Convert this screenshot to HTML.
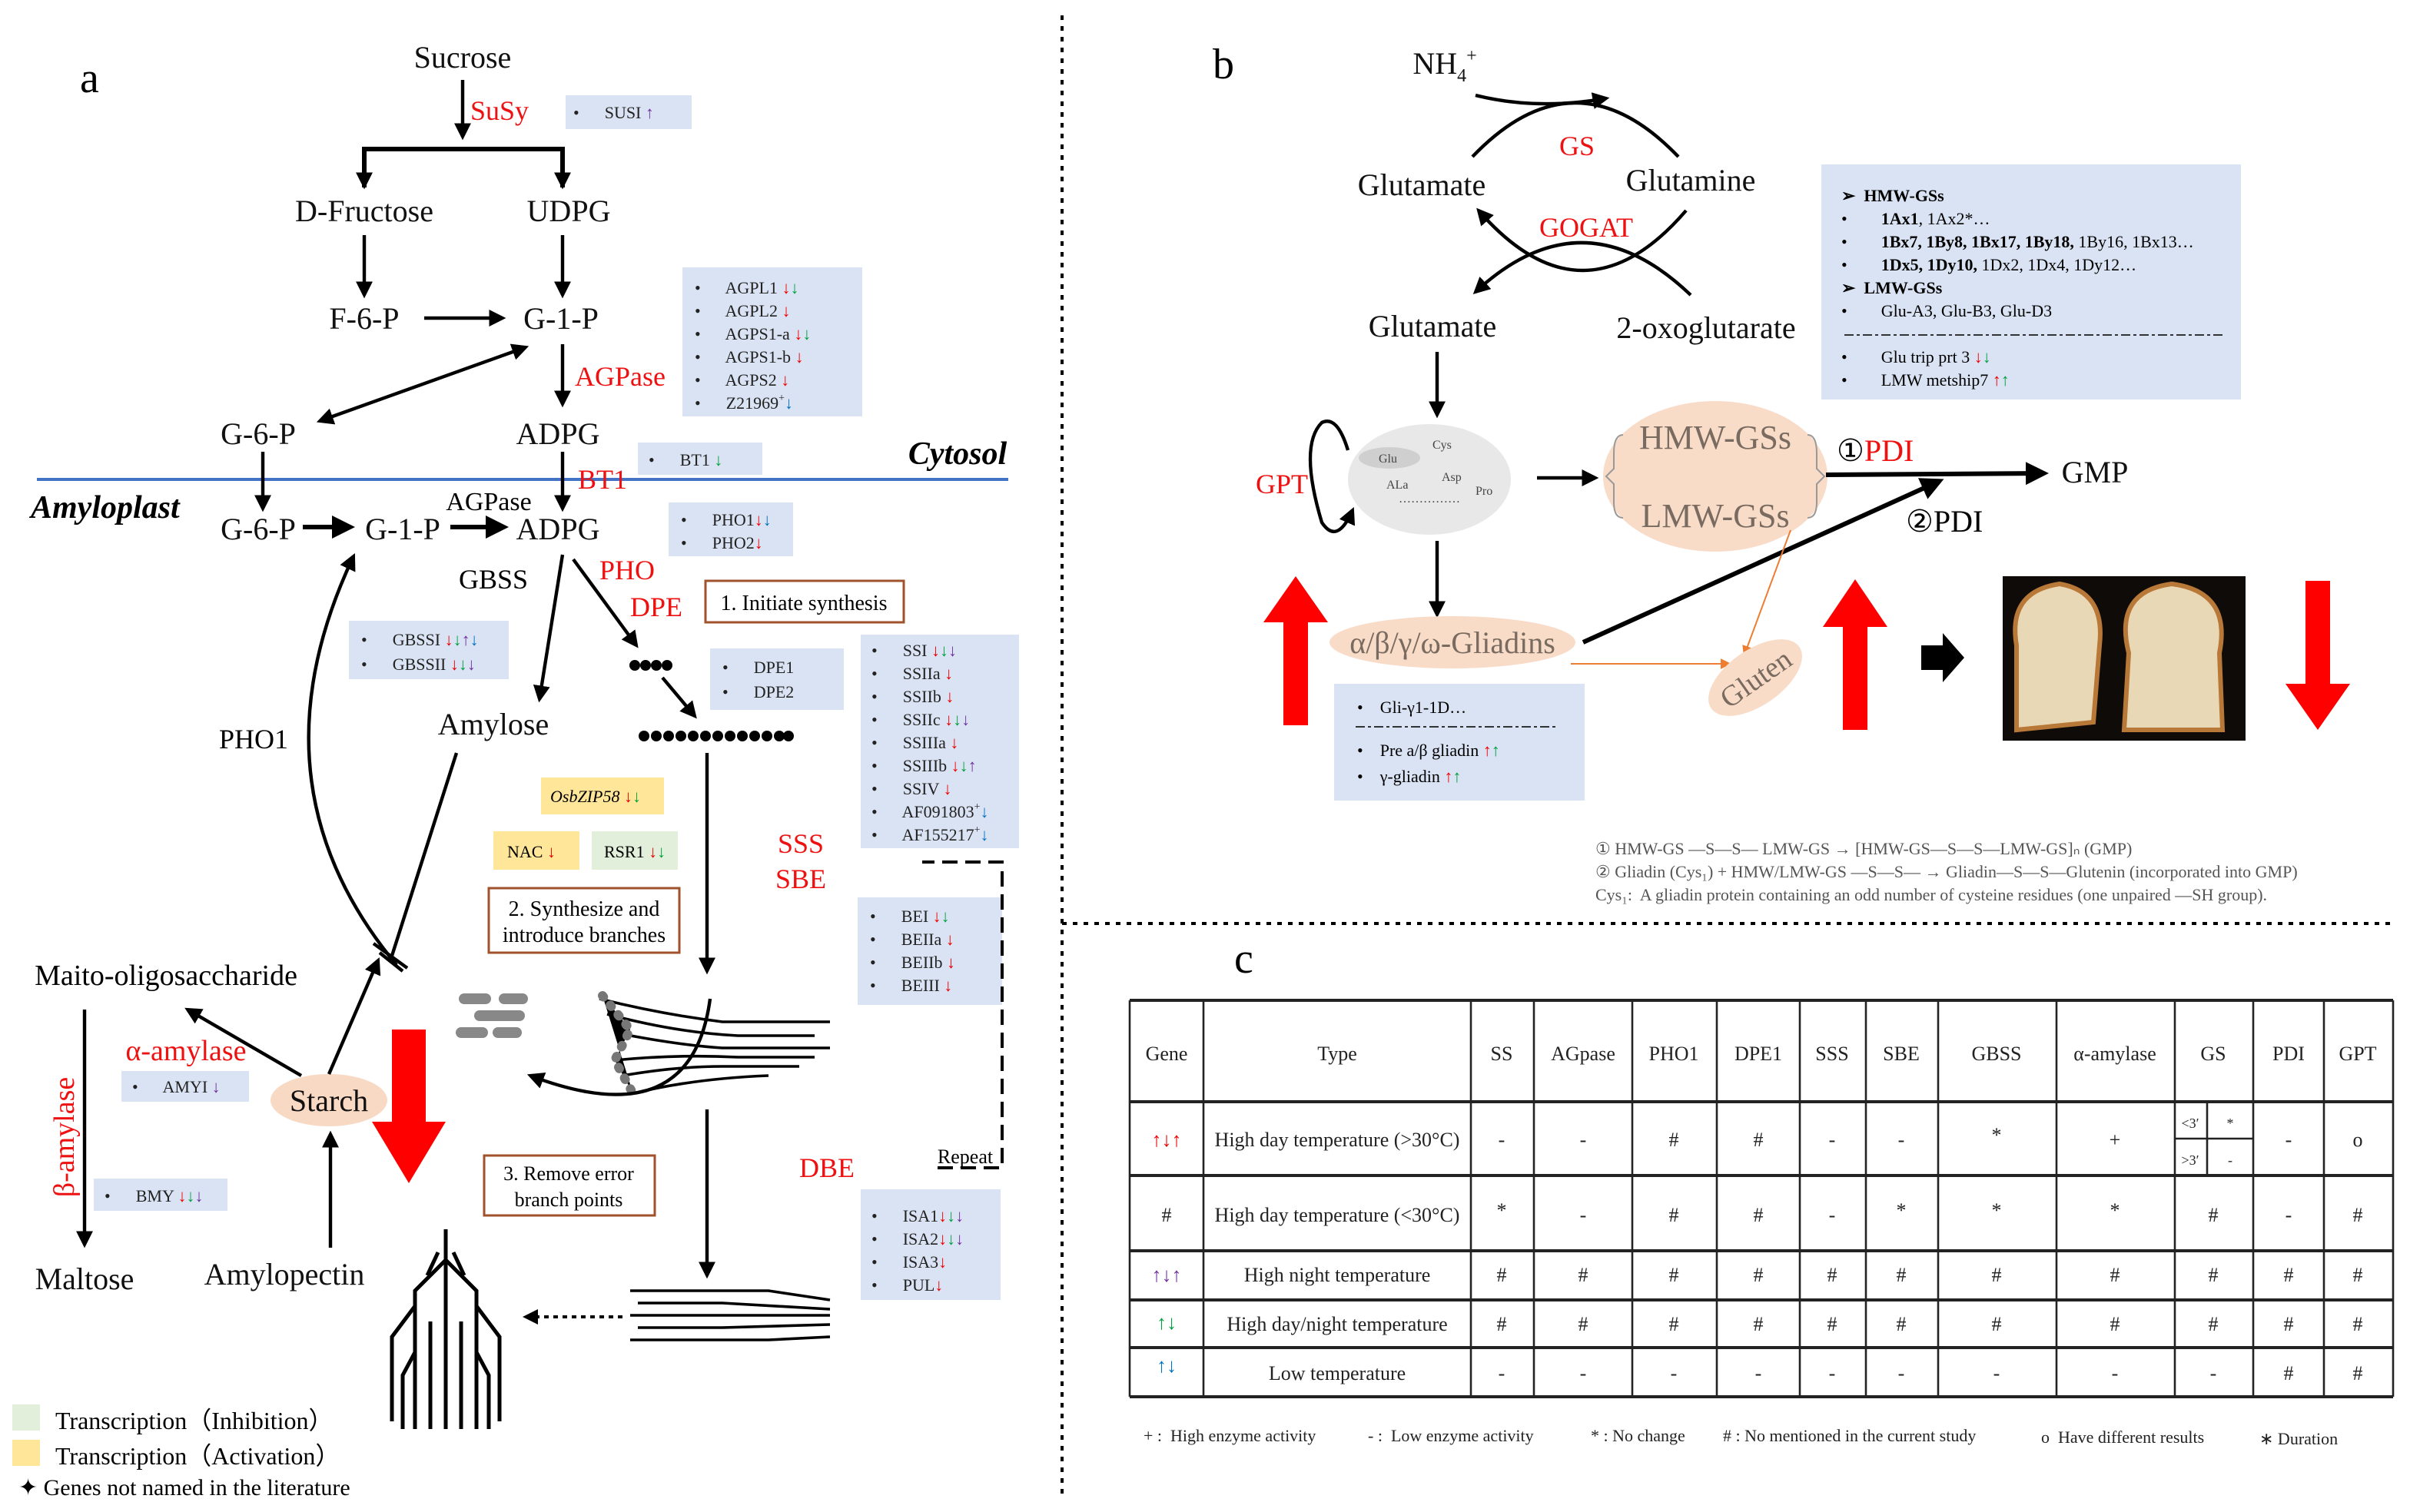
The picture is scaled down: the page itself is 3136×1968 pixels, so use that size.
<!DOCTYPE html>
<html><head><meta charset="utf-8"><style>
html,body{margin:0;padding:0;background:#fff}
svg{display:block}
text{font-family:"Liberation Serif",serif;white-space:pre}
.b{fill:#dae3f3}
.t{font-size:11px;fill:#222}
.n{font-size:20px;fill:#111}
.r{fill:#ee1111}
.ln{stroke:#000;stroke-width:2.2;fill:none}
.c{font-size:13px;text-anchor:middle;fill:#222}
</style></head><body>
<svg width="3136" height="1968" viewBox="0 0 1568 984" xmlns="http://www.w3.org/2000/svg" xml:space="preserve">
<defs>
<marker id="a" viewBox="0 0 10 10" refX="8" refY="5" markerWidth="5" markerHeight="5" orient="auto-start-reverse"><path d="M0,0 L10,5 L0,10 z" fill="#000"/></marker>
<marker id="o" viewBox="0 0 10 10" refX="8" refY="5" markerWidth="7" markerHeight="7" orient="auto"><path d="M0,0 L10,5 L0,10 z" fill="#ed7d31"/></marker>
</defs>
<rect width="1568" height="984" fill="#fff"/>

<!-- ===== Panel a ===== -->
<text x="52" y="60" font-size="28">a</text>
<text x="301" y="44" class="n" text-anchor="middle">Sucrose</text>
<line x1="301" y1="52" x2="301" y2="89" class="ln" marker-end="url(#a)"/>
<text x="306" y="78" font-size="18" class="r">SuSy</text>
<rect x="368" y="62" width="82" height="22" class="b"/>
<text x="373" y="77" class="t">•      SUSI <tspan fill="#7030a0">↑</tspan></text>
<path d="M237,122 V97 H366 V122" stroke="#000" stroke-width="3" fill="none"/>
<line x1="237" y1="110" x2="237" y2="121" class="ln" marker-end="url(#a)"/>
<line x1="366" y1="110" x2="366" y2="121" class="ln" marker-end="url(#a)"/>
<text x="237" y="144" class="n" text-anchor="middle">D-Fructose</text>
<text x="370" y="144" class="n" text-anchor="middle">UDPG</text>
<line x1="237" y1="153" x2="237" y2="192" class="ln" marker-end="url(#a)"/>
<line x1="366" y1="153" x2="366" y2="192" class="ln" marker-end="url(#a)"/>
<text x="237" y="214" class="n" text-anchor="middle">F-6-P</text>
<text x="365" y="214" class="n" text-anchor="middle">G-1-P</text>
<line x1="276" y1="207" x2="327" y2="207" class="ln" marker-end="url(#a)"/>
<rect x="444" y="174" width="117" height="97" class="b"/>
<g class="t">
<text x="452" y="191">•      AGPL1 <tspan fill="#e00">↓</tspan><tspan fill="#00a040">↓</tspan></text>
<text x="452" y="206">•      AGPL2 <tspan fill="#e00">↓</tspan></text>
<text x="452" y="221">•      AGPS1-a <tspan fill="#e00">↓</tspan><tspan fill="#00a040">↓</tspan></text>
<text x="452" y="236">•      AGPS1-b <tspan fill="#e00">↓</tspan></text>
<text x="452" y="251">•      AGPS2 <tspan fill="#e00">↓</tspan></text>
<text x="452" y="266">•      Z21969<tspan font-size="7" dy="-5">+</tspan><tspan fill="#0070c0" dy="5">↓</tspan></text>
</g>
<line x1="366" y1="224" x2="366" y2="263" class="ln" marker-end="url(#a)"/>
<text x="374" y="251" font-size="18" class="r">AGPase</text>
<line x1="342" y1="226" x2="208" y2="274" class="ln" marker-start="url(#a)" marker-end="url(#a)"/>
<text x="168" y="289" class="n" text-anchor="middle">G-6-P</text>
<text x="363" y="289" class="n" text-anchor="middle">ADPG</text>
<rect x="415" y="288" width="81" height="21" class="b"/>
<text x="422" y="303" class="t">•      BT1 <tspan fill="#00a040">↓</tspan></text>
<text x="623" y="302" font-size="21" font-weight="bold" font-style="italic" text-anchor="middle">Cytosol</text>
<line x1="24" y1="312" x2="656" y2="312" stroke="#4472c4" stroke-width="2"/>
<line x1="366" y1="294" x2="366" y2="331" class="ln" marker-end="url(#a)"/>
<text x="376" y="318" font-size="18" class="r">BT1</text>
<line x1="171" y1="294" x2="171" y2="331" class="ln" marker-end="url(#a)"/>
<text x="20" y="337" font-size="21" font-weight="bold" font-style="italic">Amyloplast</text>
<text x="168" y="351" class="n" text-anchor="middle">G-6-P</text>
<text x="262" y="351" class="n" text-anchor="middle">G-1-P</text>
<text x="363" y="351" class="n" text-anchor="middle">ADPG</text>
<text x="318" y="332" font-size="17" text-anchor="middle">AGPase</text>
<line x1="197" y1="343" x2="228" y2="343" stroke="#000" stroke-width="3" marker-end="url(#a)"/>
<line x1="293" y1="343" x2="328" y2="343" stroke="#000" stroke-width="3" marker-end="url(#a)"/>
<rect x="435" y="327" width="81" height="35" class="b"/>
<text x="443" y="342" class="t">•      PHO1<tspan fill="#e00">↓</tspan><tspan fill="#0070c0">↓</tspan></text>
<text x="443" y="357" class="t">•      PHO2<tspan fill="#e00">↓</tspan></text>
<text x="321" y="383" font-size="18" text-anchor="middle">GBSS</text>
<text x="390" y="377" font-size="18" class="r">PHO</text>
<text x="410" y="401" font-size="18" class="r">DPE</text>
<rect x="459" y="378" width="129" height="27" fill="#fff" stroke="#a0522d" stroke-width="1.5"/>
<text x="523" y="397" font-size="14" text-anchor="middle">1. Initiate synthesis</text>
<line x1="366" y1="361" x2="351" y2="455" class="ln" marker-end="url(#a)"/>
<line x1="373" y1="364" x2="414" y2="420" class="ln" marker-end="url(#a)"/>
<rect x="227" y="404" width="104" height="38" class="b"/>
<text x="235" y="420" class="t">•      GBSSI <tspan fill="#e00">↓</tspan><tspan fill="#00a040">↓</tspan><tspan fill="#7030a0">↑</tspan><tspan fill="#0070c0">↓</tspan></text>
<text x="235" y="436" class="t">•      GBSSII <tspan fill="#e00">↓</tspan><tspan fill="#00a040">↓</tspan><tspan fill="#7030a0">↓</tspan></text>
<g fill="#000"><circle cx="413" cy="433" r="3.5"/><circle cx="420" cy="433" r="3.5"/><circle cx="427" cy="433" r="3.5"/><circle cx="434" cy="433" r="3.5"/></g>
<line x1="431" y1="441" x2="452" y2="466" class="ln" marker-end="url(#a)"/>
<g fill="#000">
<circle cx="419" cy="479" r="3.5"/><circle cx="427" cy="479" r="3.5"/><circle cx="435" cy="479" r="3.5"/><circle cx="443" cy="479" r="3.5"/><circle cx="451" cy="479" r="3.5"/><circle cx="459" cy="479" r="3.5"/><circle cx="467" cy="479" r="3.5"/><circle cx="475" cy="479" r="3.5"/><circle cx="483" cy="479" r="3.5"/><circle cx="491" cy="479" r="3.5"/><circle cx="499" cy="479" r="3.5"/><circle cx="507" cy="479" r="3.5"/><circle cx="513" cy="479" r="3.5"/></g>
<rect x="462" y="422" width="87" height="40" class="b"/>
<text x="470" y="438" class="t">•      DPE1</text>
<text x="470" y="454" class="t">•      DPE2</text>
<rect x="560" y="413" width="103" height="139" class="b"/>
<g class="t">
<text x="567" y="427">•      SSI <tspan fill="#e00">↓</tspan><tspan fill="#00a040">↓</tspan><tspan fill="#7030a0">↓</tspan></text>
<text x="567" y="442">•      SSIIa <tspan fill="#e00">↓</tspan></text>
<text x="567" y="457">•      SSIIb <tspan fill="#e00">↓</tspan></text>
<text x="567" y="472">•      SSIIc <tspan fill="#e00">↓</tspan><tspan fill="#00a040">↓</tspan><tspan fill="#7030a0">↓</tspan></text>
<text x="567" y="487">•      SSIIIa <tspan fill="#e00">↓</tspan></text>
<text x="567" y="502">•      SSIIIb <tspan fill="#e00">↓</tspan><tspan fill="#00a040">↓</tspan><tspan fill="#7030a0">↑</tspan></text>
<text x="567" y="517">•      SSIV <tspan fill="#e00">↓</tspan></text>
<text x="567" y="532">•      AF091803<tspan font-size="7" dy="-5">+</tspan><tspan fill="#0070c0" dy="5">↓</tspan></text>
<text x="567" y="547">•      AF155217<tspan font-size="7" dy="-5">+</tspan><tspan fill="#0070c0" dy="5">↓</tspan></text>
</g>
<text x="321" y="478" class="n" text-anchor="middle">Amylose</text>
<text x="165" y="487" font-size="18" text-anchor="middle">PHO1</text>
<path d="M258,628 Q160,510 230,362" class="ln" marker-end="url(#a)"/>
<line x1="460" y1="490" x2="460" y2="632" class="ln" marker-end="url(#a)"/>
<rect x="352" y="506" width="80" height="24" fill="#ffe699"/>
<text x="358" y="522" font-size="11" font-style="italic">OsbZIP58 <tspan fill="#e00" font-style="normal">↓</tspan><tspan fill="#00a040" font-style="normal">↓</tspan></text>
<rect x="321" y="541" width="56" height="25" fill="#ffe699"/>
<text x="330" y="558" font-size="11">NAC <tspan fill="#e00">↓</tspan></text>
<rect x="385" y="541" width="56" height="25" fill="#e2efda"/>
<text x="393" y="558" font-size="11">RSR1 <tspan fill="#e00">↓</tspan><tspan fill="#00a040">↓</tspan></text>
<text x="521" y="555" font-size="18" class="r" text-anchor="middle">SSS</text>
<text x="521" y="578" font-size="18" class="r" text-anchor="middle">SBE</text>
<rect x="318" y="578" width="124" height="42" fill="#fff" stroke="#a0522d" stroke-width="1.5"/>
<text x="380" y="596" font-size="14" text-anchor="middle">2. Synthesize and</text>
<text x="380" y="613" font-size="14" text-anchor="middle">introduce branches</text>
<line x1="297" y1="490" x2="255" y2="622" class="ln"/>
<line x1="243" y1="614" x2="265" y2="630" class="ln"/>
<line x1="247" y1="620" x2="262" y2="632" class="ln"/>
<rect x="558" y="584" width="94" height="70" class="b"/>
<g class="t">
<text x="566" y="600">•      BEI <tspan fill="#e00">↓</tspan><tspan fill="#00a040">↓</tspan></text>
<text x="566" y="615">•      BEIIa <tspan fill="#e00">↓</tspan></text>
<text x="566" y="630">•      BEIIb <tspan fill="#e00">↓</tspan></text>
<text x="566" y="645">•      BEIII <tspan fill="#e00">↓</tspan></text>
</g>
<path d="M610,760 H652 V561 H600" stroke="#000" stroke-width="2" stroke-dasharray="10,5" fill="none"/>
<text x="628" y="757" font-size="13" text-anchor="middle">Repeat</text>
<text x="108" y="641" font-size="19" text-anchor="middle">Maito-oligosaccharide</text>
<line x1="196" y1="700" x2="122" y2="657" class="ln" marker-end="url(#a)"/>
<text x="121" y="690" font-size="19" class="r" text-anchor="middle">α-amylase</text>
<rect x="79" y="697" width="83" height="20" class="b"/>
<text x="86" y="711" class="t">•      AMYI <tspan fill="#7030a0">↓</tspan></text>
<ellipse cx="214" cy="716" rx="38" ry="17" fill="#f8d9c4"/>
<text x="214" y="723" class="n" text-anchor="middle" fill="#555">Starch</text>
<line x1="214" y1="699" x2="246" y2="625" class="ln" marker-end="url(#a)"/>
<polygon points="255,670 277,670 277,730 290,730 266,770 242,730 255,730" fill="#ff0000"/>
<text transform="translate(48,740) rotate(-90)" font-size="19" class="r" text-anchor="middle">β-amylase</text>
<line x1="55" y1="657" x2="55" y2="810" class="ln" marker-end="url(#a)"/>
<rect x="61" y="767" width="87" height="21" class="b"/>
<text x="68" y="782" class="t">•      BMY <tspan fill="#e00">↓</tspan><tspan fill="#00a040">↓</tspan><tspan fill="#7030a0">↓</tspan></text>
<text x="55" y="839" class="n" text-anchor="middle">Maltose</text>
<text x="185" y="836" class="n" text-anchor="middle">Amylopectin</text>
<line x1="215" y1="812" x2="215" y2="738" class="ln" marker-end="url(#a)"/>
<g stroke="#888" stroke-width="7" stroke-linecap="round">
<line x1="302" y1="650" x2="316" y2="650"/><line x1="328" y1="650" x2="340" y2="650"/>
<line x1="312" y1="661" x2="338" y2="661"/><line x1="300" y1="672" x2="314" y2="672"/><line x1="324" y1="672" x2="336" y2="672"/>
</g>
<g stroke="#000" stroke-width="1.8" fill="none">
<path d="M390,650 Q430,660 470,665 H540"/><path d="M395,660 Q440,672 480,674 H530"/>
<path d="M400,672 Q440,680 470,682 H540"/><path d="M400,690 Q440,686 480,688 H530"/>
<path d="M405,700 Q440,694 470,694 H520"/><path d="M410,712 Q450,702 500,700"/>
</g>
<g stroke="#777" stroke-width="6" stroke-linecap="round" stroke-dasharray="1,7"><path d="M392,648 L410,670 L400,690 L412,712"/></g>
<path d="M462,650 Q450,740 345,700" class="ln" marker-end="url(#a)"/>
<rect x="315" y="752" width="111" height="39" fill="#fff" stroke="#a0522d" stroke-width="1.5"/>
<text x="370" y="768" font-size="13" text-anchor="middle">3. Remove error</text>
<text x="370" y="785" font-size="13" text-anchor="middle">branch points</text>
<text x="538" y="766" font-size="18" class="r" text-anchor="middle">DBE</text>
<rect x="560" y="774" width="91" height="72" class="b"/>
<g class="t">
<text x="567" y="795">•      ISA1<tspan fill="#e00">↓</tspan><tspan fill="#00a040">↓</tspan><tspan fill="#7030a0">↓</tspan></text>
<text x="567" y="810">•      ISA2<tspan fill="#e00">↓</tspan><tspan fill="#00a040">↓</tspan><tspan fill="#7030a0">↓</tspan></text>
<text x="567" y="825">•      ISA3<tspan fill="#e00">↓</tspan></text>
<text x="567" y="840">•      PUL<tspan fill="#e00">↓</tspan></text>
</g>
<line x1="460" y1="722" x2="460" y2="830" class="ln" marker-end="url(#a)"/>
<g stroke="#000" stroke-width="1.8" fill="none">
<path d="M410,840 H500 L540,846"/><path d="M415,848 H470 L540,852"/><path d="M410,856 H540"/>
<path d="M415,864 H470 L540,862"/><path d="M410,872 H500 L540,870"/>
</g>
<line x1="405" y1="857" x2="342" y2="857" stroke="#000" stroke-width="2" stroke-dasharray="3,3" marker-end="url(#a)"/>
<g stroke="#000" stroke-width="2.5" fill="none">
<path d="M290,800 V930"/><path d="M290,820 L270,840 V930"/><path d="M290,820 L310,840 V930"/>
<path d="M270,850 L255,870 V925"/><path d="M310,850 L325,870 V925"/><path d="M280,860 V930"/><path d="M300,860 V930"/>
<path d="M270,880 L262,895 V930"/><path d="M310,880 L318,895 V930"/><path d="M285,815 L278,830"/><path d="M295,815 L302,830"/>
</g>
<rect x="8" y="914" width="18" height="17" fill="#e2efda"/>
<text x="36" y="930" font-size="16">Transcription（Inhibition）</text>
<rect x="8" y="937" width="18" height="17" fill="#ffe699"/>
<text x="36" y="953" font-size="16">Transcription（Activation）</text>
<text x="12" y="973" font-size="15">✦ Genes not named in the literature</text>

<line x1="691" y1="10" x2="691" y2="976" stroke="#000" stroke-width="2" stroke-dasharray="3,4"/>
<line x1="691" y1="601" x2="1558" y2="601" stroke="#000" stroke-width="2" stroke-dasharray="3,4"/>

<!-- ===== Panel b ===== -->
<text x="789" y="51" font-size="28">b</text>
<text x="940" y="48" class="n" text-anchor="middle">NH<tspan font-size="12" dy="5">4</tspan><tspan font-size="12" dy="-13">+</tspan></text>
<path d="M958,102 Q1025,32 1092,102" class="ln"/>
<path d="M960,62 Q1000,72 1045,64" class="ln" marker-end="url(#a)"/>
<text x="1026" y="101" font-size="18" class="r" text-anchor="middle">GS</text>
<text x="925" y="127" class="n" text-anchor="middle">Glutamate</text>
<text x="1100" y="124" class="n" text-anchor="middle">Glutamine</text>
<text x="1032" y="154" font-size="18" class="r" text-anchor="middle">GOGAT</text>
<path d="M1097,137 Q1030,215 962,137" class="ln" marker-end="url(#a)"/>
<path d="M1100,192 Q1030,125 960,190" class="ln" marker-end="url(#a)"/>
<text x="932" y="219" class="n" text-anchor="middle">Glutamate</text>
<text x="1110" y="220" class="n" text-anchor="middle">2-oxoglutarate</text>
<line x1="935" y1="229" x2="935" y2="270" class="ln" marker-end="url(#a)"/>
<rect x="1185" y="107" width="273" height="153" class="b"/>
<g font-size="11">
<text x="1198" y="131" font-weight="bold">➢  HMW-GSs</text>
<text x="1198" y="146">•        <tspan font-weight="bold">1Ax1</tspan>, 1Ax2*…</text>
<text x="1198" y="161">•        <tspan font-weight="bold">1Bx7, 1By8, 1Bx17, 1By18,</tspan> 1By16, 1Bx13…</text>
<text x="1198" y="176">•        <tspan font-weight="bold">1Dx5, 1Dy10,</tspan> 1Dx2, 1Dx4, 1Dy12…</text>
<text x="1198" y="191" font-weight="bold">➢  LMW-GSs</text>
<text x="1198" y="206">•        Glu-A3, Glu-B3, Glu-D3</text>
<text x="1198" y="236">•        Glu trip prt 3 <tspan fill="#e00">↓</tspan><tspan fill="#00a040">↓</tspan></text>
<text x="1198" y="251">•        LMW metship7 <tspan fill="#e00">↑</tspan><tspan fill="#00a040">↑</tspan></text>
</g>
<line x1="1200" y1="218" x2="1448" y2="218" stroke="#333" stroke-dasharray="6,2,2,2"/>
<ellipse cx="930" cy="312" rx="53" ry="36" fill="#e8e8e8"/>
<ellipse cx="904" cy="298" rx="20" ry="7" fill="#cfcfcf"/>
<g font-size="8" fill="#444"><text x="897" y="301">Glu</text><text x="932" y="292">Cys</text><text x="938" y="313">Asp</text><text x="902" y="318">ALa</text><text x="960" y="322">Pro</text><text x="910" y="327">……………</text></g>
<path d="M877,293 Q870,270 860,275 Q845,290 860,340 Q870,355 880,332" class="ln" marker-end="url(#a)"/>
<text x="834" y="321" font-size="18" class="r" text-anchor="middle">GPT</text>
<line x1="1000" y1="311" x2="1038" y2="311" class="ln" marker-end="url(#a)"/>
<ellipse cx="1116" cy="310" rx="73" ry="49" fill="#f8dcc8"/>
<text x="1116" y="292" font-size="22" fill="#7a6b60" text-anchor="middle">HMW-GSs</text>
<text x="1116" y="343" font-size="22" fill="#7a6b60" text-anchor="middle">LMW-GSs</text>
<path d="M1056,283 Q1050,283 1050,295 V305 L1045,310 L1050,315 V327 Q1050,337 1056,337" stroke="#999" fill="none"/>
<path d="M1176,283 Q1182,283 1182,295 V305 L1187,310 L1182,315 V327 Q1182,337 1176,337" stroke="#999" fill="none"/>
<text x="1195" y="300" font-size="20">①<tspan fill="#e11">PDI</tspan></text>
<line x1="1188" y1="309" x2="1330" y2="308" stroke="#000" stroke-width="3" marker-end="url(#a)"/>
<text x="1363" y="314" class="n" text-anchor="middle">GMP</text>
<text x="1240" y="346" font-size="20">②PDI</text>
<line x1="1030" y1="418" x2="1262" y2="313" stroke="#000" stroke-width="3" marker-end="url(#a)"/>
<line x1="935" y1="352" x2="935" y2="400" class="ln" marker-end="url(#a)"/>
<polygon points="835,472 851,472 851,405 864,405 843,375 822,405 835,405" fill="#ff0000"/>
<ellipse cx="945" cy="418" rx="80" ry="17" fill="#f8dcc8"/>
<text x="945" y="425" font-size="20" fill="#7a6b60" text-anchor="middle">α/β/γ/ω-Gliadins</text>
<line x1="1022" y1="432" x2="1125" y2="432" stroke="#ed7d31" stroke-width="1" marker-end="url(#o)"/>
<line x1="1165" y1="345" x2="1135" y2="426" stroke="#ed7d31" stroke-width="1" marker-end="url(#o)"/>
<ellipse cx="1142" cy="441" rx="35" ry="18" fill="#f8dcc8" transform="rotate(-35 1142 441)"/>
<text x="1142" y="448" font-size="19" fill="#7a6b60" text-anchor="middle" transform="rotate(-35 1142 441)">Gluten</text>
<polygon points="1199,475 1215,475 1215,408 1228,408 1207,377 1186,408 1199,408" fill="#ff0000"/>
<polygon points="1250,420 1264,420 1264,412 1278,428 1264,444 1264,436 1250,436" fill="#000"/>
<rect x="1303" y="375" width="158" height="107" fill="#0e0b08"/>
<path d="M1312,475 V420 Q1306,385 1340,380 Q1370,385 1366,420 L1362,470 Z" fill="#e9d8b6" stroke="#b87838" stroke-width="3"/>
<path d="M1382,475 L1385,425 Q1375,385 1413,380 Q1452,385 1444,425 L1446,475 Z" fill="#e9d8b6" stroke="#b87838" stroke-width="3"/>
<polygon points="1500,378 1516,378 1516,445 1529,445 1508,475 1487,445 1500,445" fill="#ff0000"/>
<rect x="868" y="445" width="163" height="76" class="b"/>
<g font-size="11"><text x="883" y="464">•    Gli-γ1-1D…</text>
<text x="883" y="492">•    Pre a/β gliadin <tspan fill="#e00">↑</tspan><tspan fill="#00a040">↑</tspan></text>
<text x="883" y="509">•    γ-gliadin <tspan fill="#e00">↑</tspan><tspan fill="#00a040">↑</tspan></text></g>
<line x1="882" y1="473" x2="1012" y2="473" stroke="#333" stroke-dasharray="6,2,2,2"/>
<g font-size="11" fill="#555">
<text x="1038" y="556">① HMW-GS —S—S— LMW-GS → [HMW-GS—S—S—LMW-GS]ₙ (GMP)</text>
<text x="1038" y="571">② Gliadin (Cys₁) + HMW/LMW-GS —S—S— → Gliadin—S—S—Glutenin (incorporated into GMP)</text>
<text x="1038" y="586">Cys₁:  A gliadin protein containing an odd number of cysteine residues (one unpaired —SH group).</text>
</g>

<!-- ===== Panel c ===== -->
<text x="803" y="633" font-size="28">c</text>
<g stroke="#222" stroke-width="1.3">
<line x1="735" y1="651" x2="1557" y2="651" stroke-width="2"/>
<line x1="735" y1="717" x2="1557" y2="717" stroke-width="2"/>
<line x1="735" y1="765" x2="1557" y2="765" stroke-width="2"/>
<line x1="735" y1="814" x2="1557" y2="814" stroke-width="2"/>
<line x1="735" y1="846" x2="1557" y2="846" stroke-width="2"/>
<line x1="735" y1="877" x2="1557" y2="877" stroke-width="2"/>
<line x1="735" y1="909" x2="1557" y2="909" stroke-width="2"/>
<line x1="735" y1="651" x2="735" y2="909"/><line x1="783" y1="651" x2="783" y2="909"/>
<line x1="957" y1="651" x2="957" y2="909"/><line x1="998" y1="651" x2="998" y2="909"/>
<line x1="1062" y1="651" x2="1062" y2="909"/><line x1="1117" y1="651" x2="1117" y2="909"/>
<line x1="1171" y1="651" x2="1171" y2="909"/><line x1="1214" y1="651" x2="1214" y2="909"/>
<line x1="1261" y1="651" x2="1261" y2="909"/><line x1="1338" y1="651" x2="1338" y2="909"/>
<line x1="1415" y1="651" x2="1415" y2="909"/><line x1="1466" y1="651" x2="1466" y2="909"/>
<line x1="1512" y1="651" x2="1512" y2="909"/><line x1="1557" y1="651" x2="1557" y2="909"/>
<line x1="1415" y1="741" x2="1466" y2="741"/><line x1="1436" y1="717" x2="1436" y2="765"/>
</g>
<g class="c">
<text x="759" y="690">Gene</text><text x="870" y="690">Type</text><text x="977" y="690">SS</text><text x="1030" y="690">AGpase</text>
<text x="1089" y="690">PHO1</text><text x="1144" y="690">DPE1</text><text x="1192" y="690">SSS</text><text x="1237" y="690">SBE</text>
<text x="1299" y="690">GBSS</text><text x="1376" y="690">α-amylase</text><text x="1440" y="690">GS</text><text x="1489" y="690">PDI</text><text x="1534" y="690">GPT</text>
<text x="759" y="746" fill="#e00">↑↓↑</text><text x="870" y="746">High day temperature (&gt;30°C)</text>
<text x="977" y="746">-</text><text x="1030" y="746">-</text><text x="1089" y="746">#</text><text x="1144" y="746">#</text><text x="1192" y="746">-</text><text x="1237" y="746">-</text><text x="1299" y="743">*</text><text x="1376" y="746">+</text><text x="1489" y="746">-</text><text x="1534" y="746">ο</text>
<text x="1425" y="734" font-size="9">&lt;3′</text><text x="1451" y="734" font-size="9">*</text><text x="1425" y="758" font-size="9">&gt;3′</text><text x="1451" y="758" font-size="9">-</text>
<text x="759" y="795">#</text><text x="870" y="795">High day temperature (&lt;30°C)</text>
<text x="977" y="792">*</text><text x="1030" y="795">-</text><text x="1089" y="795">#</text><text x="1144" y="795">#</text><text x="1192" y="795">-</text><text x="1237" y="792">*</text><text x="1299" y="792">*</text><text x="1376" y="792">*</text><text x="1440" y="795">#</text><text x="1489" y="795">-</text><text x="1534" y="795">#</text>
<text x="759" y="834" fill="#7030a0">↑↓↑</text><text x="870" y="834">High night temperature</text>
<text x="977" y="834">#</text><text x="1030" y="834">#</text><text x="1089" y="834">#</text><text x="1144" y="834">#</text><text x="1192" y="834">#</text><text x="1237" y="834">#</text><text x="1299" y="834">#</text><text x="1376" y="834">#</text><text x="1440" y="834">#</text><text x="1489" y="834">#</text><text x="1534" y="834">#</text>
<text x="759" y="865" fill="#00a040">↑↓</text><text x="870" y="866">High day/night temperature</text>
<text x="977" y="866">#</text><text x="1030" y="866">#</text><text x="1089" y="866">#</text><text x="1144" y="866">#</text><text x="1192" y="866">#</text><text x="1237" y="866">#</text><text x="1299" y="866">#</text><text x="1376" y="866">#</text><text x="1440" y="866">#</text><text x="1489" y="866">#</text><text x="1534" y="866">#</text>
<text x="759" y="893" fill="#0070c0">↑↓</text><text x="870" y="898">Low temperature</text>
<text x="977" y="898">-</text><text x="1030" y="898">-</text><text x="1089" y="898">-</text><text x="1144" y="898">-</text><text x="1192" y="898">-</text><text x="1237" y="898">-</text><text x="1299" y="898">-</text><text x="1376" y="898">-</text><text x="1440" y="898">-</text><text x="1489" y="898">#</text><text x="1534" y="898">#</text>
</g>
<g font-size="11" fill="#222">
<text x="744" y="938">+ :  High enzyme activity</text>
<text x="890" y="938">- :  Low enzyme activity</text>
<text x="1035" y="938">* : No change</text>
<text x="1121" y="938"># : No mentioned in the current study</text>
<text x="1328" y="939">ο  Have different results</text>
<text x="1470" y="940">∗ Duration</text>
</g>
</svg>
</body></html>
